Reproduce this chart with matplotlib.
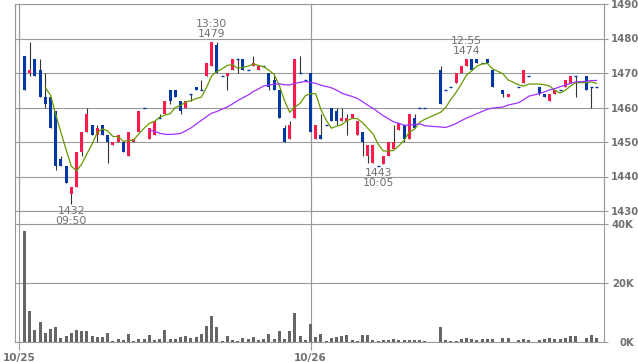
import numpy as np
import pandas as pd
import matplotlib
matplotlib.use('Agg')
import matplotlib.pyplot as plt

nan = np.nan

# 5-minute bars, two sessions (10/25, 10/26); nan = no trade in that slot
opens = [1475, 1470, 1474, 1471, 1463, 1463, 1459, 1445, 1443, 1435,
         1437, 1447, 1453, 1455, 1452, 1455, 1452, 1449, 1450, 1450,
         1446, 1450, 1453, 1460, 1451, 1452, 1457, 1458, 1465, 1465,
         1462, 1460, 1464, 1466, 1465, 1469, 1472, 1478, 1469, 1469,
         1471, 1474, 1474, 1471, 1472, 1471, 1472, 1470, 1468, 1465,
         1454, 1451, 1457, 1470, 1468,
         1470, 1451, 1452, 1455, 1460, 1459, 1456, 1456, 1457, 1452,
         1453, 1446, 1444, 1443, 1443.5, 1446, 1448, 1453.5, 1455, 1451,
         1457, 1460, 1460, nan, nan, 1471, 1465, 1466, 1467, 1470,
         1472, 1474, 1474, 1473, 1474, 1471, nan, 1465, 1463, nan,
         1466, 1467, 1469, nan, 1466, 1464, 1462, 1464, 1465, 1466,
         1467, 1469, nan, 1469, 1466, 1466]
highs = [1475, 1479, 1474, 1474, 1470, 1463, 1459, 1446, 1443, 1437,
         1447, 1453, 1460, 1455, 1455, 1455, 1452, 1450, 1452, 1450,
         1453, 1451, 1459, 1460, 1454, 1456, 1458, 1462, 1465, 1465,
         1462, 1462, 1464, 1466, 1468, 1473, 1479, 1479, 1469, 1470,
         1474, 1474, 1474, 1471, 1475, 1472, 1472, 1470, 1469, 1465,
         1455, 1456, 1474, 1475, 1468,
         1470, 1455, 1458, 1455, 1460, 1460, 1460, 1458, 1458, 1456,
         1453, 1449, 1449, 1443, 1446, 1450, 1455, 1455.5, 1455, 1458,
         1458, 1460, 1460, nan, nan, 1472, 1465, 1466, 1470, 1472,
         1474, 1474, 1474, 1473, 1474, 1471, nan, 1465, 1464, nan,
         1466, 1471, 1469, nan, 1466, 1464, 1464, 1465, 1465, 1468,
         1469, 1469, nan, 1469, 1466, 1466]
lows = [1465, 1469, 1469, 1463, 1460, 1454, 1442, 1443, 1438, 1432,
        1437, 1446, 1453, 1452, 1450, 1452, 1444, 1449, 1450, 1447,
        1446, 1450, 1453, 1460, 1451, 1452, 1457, 1458, 1461, 1463,
        1458, 1460, 1462, 1465, 1465, 1469, 1472, 1470, 1469, 1465,
        1471, 1470, 1471, 1471, 1472, 1471, 1472, 1465, 1465, 1457,
        1450, 1451, 1457, 1470, 1468,
        1453, 1451, 1451, 1455, 1456, 1455, 1456, 1452, 1457, 1452,
        1446, 1444, 1444, 1443, 1443.5, 1446, 1448, 1453.5, 1450, 1451,
        1454, 1460, 1460, nan, nan, 1461, 1465, 1466, 1467, 1470,
        1472, 1471, 1473, 1473, 1473, 1466, nan, 1463, 1463, nan,
        1466, 1467, 1469, nan, 1463.5, 1463, 1462, 1464, 1465, 1466,
        1467, 1463, nan, 1465, 1460, 1466]
closes = [1465, 1471, 1469, 1463, 1461, 1454, 1443, 1443, 1438, 1437,
          1447, 1453, 1458, 1452, 1454, 1452, 1450, 1450, 1452, 1447,
          1453, 1451, 1459, 1460, 1454, 1456, 1457, 1462, 1462, 1463,
          1459, 1462, 1464, 1465, 1465, 1473, 1479, 1470, 1469, 1470,
          1474, 1474, 1471, 1471, 1473, 1472, 1472, 1466, 1465, 1457,
          1450, 1455, 1474, 1470, 1468,
          1453, 1455, 1451, 1455, 1456, 1456, 1457, 1457, 1458, 1456,
          1450, 1449, 1449, 1443, 1446, 1450, 1450, 1455.5, 1451, 1458,
          1454, 1460, 1460, nan, nan, 1461, 1465, 1466, 1470, 1472,
          1474, 1471, 1473, 1473, 1473, 1466, nan, 1464, 1464, nan,
          1466, 1471, 1469, nan, 1464, 1463, 1464, 1465, 1465, 1468,
          1469, 1469, nan, 1465, 1466, 1466]
volume_k = [37.6, 10.6, 4.1, 6.8, 3.1, 4.4, 5.1, 1.4, 2.0, 3.1,
            4.1, 3.7, 3.7, 2.0, 1.7, 1.7, 3.1, 0.3, 1.0, 0.7,
            2.7, 0.3, 1.0, 1.0, 2.4, 0.7, 1.0, 4.1, 1.0, 1.0,
            1.7, 2.0, 1.4, 1.7, 2.7, 5.4, 8.8, 5.1, 0.3, 2.0,
            0.7, 0.3, 1.4, 1.0, 1.7, 0.7, 1.0, 2.7, 1.0, 3.7,
            1.0, 3.7, 9.8, 2.0, 0.7,
            6.1, 1.7, 2.7, 0.3, 1.4, 1.7, 2.0, 2.4, 0.7, 0.3,
            2.4, 2.4, 0.7, 0.3, 0.7, 0.7, 1.0, 0.7, 0.7, 0.7,
            0.7, 0.7, 0.3, 0, 0, 5.1, 0.7, 0.3, 0.3, 1.0,
            1.4, 1.0, 0.7, 1.0, 1.0, 1.0, 0, 1.4, 1.4, 0,
            0.7, 1.0, 0.7, 0, 0.7, 1.0, 1.4, 1.0, 1.0, 1.4,
            2.0, 2.0, 0, 1.4, 2.4, 1.4]

day_labels = ['10/25', '10/26']
day_start = [-1, 55]
# (bar index, time text, 'high' or 'low')
marks = [(9, '09:50', 'low'), (36, '13:30', 'high'),
         (68, '10:05', 'low'), (85, '12:55', 'high')]

o = np.array(opens, dtype=float)
h = np.array(highs, dtype=float)
l = np.array(lows, dtype=float)
c = np.array(closes, dtype=float)
v = np.array(volume_k, dtype=float)
x = np.arange(len(o))
ok = ~np.isnan(c)

up_col = '#ff1a4d'
dn_col = '#0039a6'
grid_col = '#9a9a9a'
txt_col = '#707070'

fig = plt.figure(figsize=(6.38, 3.62), dpi=100)
ax1 = fig.add_axes([15/638, 1-211/362, 589/638, 207/362])
ax2 = fig.add_axes([15/638, 1-342/362, 589/638, 118/362])
xlim = (-1.83, 111.44)

# wicks
ax1.vlines(x[ok], l[ok], h[ok], color='#333333', lw=0.8, zorder=3)
# bodies
body = ok & (o != c)
cols = np.where(c > o, up_col, dn_col)
ax1.bar(x[body], np.abs(c - o)[body], bottom=np.minimum(o, c)[body],
        width=0.6, color=cols[body], lw=0, zorder=4)
flat = ok & (o == c)
ax1.hlines(c[flat], x[flat] - 0.3, x[flat] + 0.3, color=dn_col, lw=1.0, zorder=4)

# moving averages on traded bars
cs = pd.Series(c[ok], index=x[ok])
ax1.plot(cs.index, cs.rolling(5).mean(), color='#669900', lw=0.9, zorder=5)
ax1.plot(cs.index, cs.rolling(25).mean(), color='#a030ff', lw=0.9, zorder=5)

# high / low labels
for i, t, kind in marks:
    if kind == 'high':
        ax1.annotate(f'{t}\n{h[i]:.0f}', xy=(i, h[i]), xytext=(0, 2),
                     textcoords='offset points', ha='center', va='bottom',
                     fontsize=7.8, color=txt_col, linespacing=1.0, zorder=6)
    else:
        ax1.annotate(f'{l[i]:.0f}\n{t}', xy=(i, l[i]), xytext=(0, -1.5),
                     textcoords='offset points', ha='center', va='top',
                     fontsize=7.8, color=txt_col, linespacing=1.0, zorder=6)

# volume
ax2.bar(x, v, width=0.6, color='#666666', lw=0, zorder=3)

for ax in (ax1, ax2):
    ax.set_xlim(*xlim)
    for s in ax.spines.values():
        s.set_color(grid_col)
        s.set_linewidth(0.8)
    ax.yaxis.tick_right()
    ax.grid(axis='y', color=grid_col, lw=0.8)
    for d in day_start:
        ax.axvline(d, color=grid_col, lw=0.8, zorder=1)

ax1.set_ylim(1430, 1490)
ax1.set_yticks(range(1430, 1491, 10))
ax1.set_xticks([])
ax1.tick_params(axis='y', length=3, width=0.8, color=grid_col, pad=2,
                labelsize=7.3, labelcolor=txt_col)

ax2.set_ylim(0, 40)
ax2.set_yticks([0, 20, 40])
ax2.set_yticklabels(['0K', '20K', '40K'])
ax2.tick_params(axis='y', length=3, width=0.8, color=grid_col, pad=18.5,
                labelsize=7.3, labelcolor=txt_col)
for t in ax2.get_yticklabels():
    t.set_ha('right')
ax2.set_xticks(day_start)
ax2.set_xticklabels(day_labels)
ax2.tick_params(axis='x', length=6, width=0.8, color=grid_col, pad=2,
                labelsize=7.5, labelcolor=txt_col)

for t in ax1.get_yticklabels() + ax2.get_yticklabels() + ax2.get_xticklabels():
    t.set_fontweight('bold')

# frame lines running through the gap between panels
gap = 13 / 207
for xx in [xlim[0], xlim[1]] + day_start:
    ax1.axvline(xx, ymin=-gap, ymax=1, color=grid_col, lw=0.8, clip_on=False)

fig.savefig('out.png', dpi=100)
